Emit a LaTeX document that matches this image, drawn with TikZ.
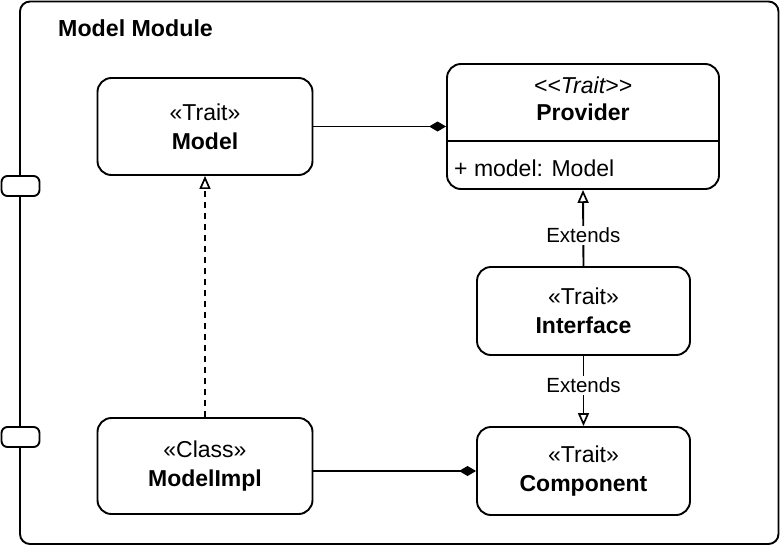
\documentclass[tikz,border=0pt]{standalone}
\usepackage{fontspec}
\setmainfont{Liberation Sans}
\usetikzlibrary{arrows.meta}
\tikzset{
  umlbox/.style={draw, line width=1.9pt, rounded corners=14pt, inner sep=0pt, align=center,
    font=\fontsize{23}{29}\selectfont, fill=white},
  conn/.style={line width=1.9pt},
  realize/.style={conn, dashed, dash pattern=on 6pt off 5pt, -{Triangle[open, length=13pt, width=11pt, line width=1.7pt]}},
  extend/.style={conn, -{Triangle[open, length=13pt, width=11pt, line width=1.7pt]}},
  compose/.style={conn, -{Diamond[length=17pt, width=10pt]}},
  lbl/.style={fill=white, inner sep=2pt, font=\fontsize{20.5}{23}\selectfont},
  tab/.style={draw, line width=1.9pt, rounded corners=6pt, fill=white, minimum width=38pt, minimum height=20pt, inner sep=0pt},
}
\begin{document}
\begin{tikzpicture}[x=1pt,y=-1pt]
\useasboundingbox (0,0) rectangle (781,546);
% module frame
\draw[line width=1.9pt, rounded corners=10pt] (20,1.5) rectangle (778.5,544);
\node[anchor=west, inner sep=0pt, font=\fontsize{23.2}{26}\selectfont\bfseries] (title) at (58,28) {Model Module};
\node[tab] (tab1) at (20.5,186) {};
\node[tab] (tab2) at (20.5,437) {};
% classes
\node[umlbox, minimum width=215pt, minimum height=97pt] (model) at (205,126.5) {«Trait»\\\textbf{Model}};
\node[umlbox, minimum width=215pt, minimum height=96pt] (mi) at (205,466) {«Class»\\\textbf{ModelImpl}};
\node[umlbox, minimum width=213pt, minimum height=88pt] (iface) at (583.5,311) {«Trait»\\\textbf{Interface}};
\node[umlbox, minimum width=213pt, minimum height=88pt] (comp) at (583.5,471) {«Trait»\\\textbf{Component}};
\node[umlbox, minimum width=272pt, minimum height=125pt] (prov) at (583,126.5) {};
\draw[line width=1.9pt] (447,141) -- (719,141);
\node[font=\fontsize{23}{26}\selectfont\itshape] (provst) at (583,85) {<{}<Trait>{}>};
\node[font=\fontsize{23}{26}\selectfont\bfseries] (provname) at (583,112) {Provider};
\node[anchor=west, font=\fontsize{23}{26}\selectfont, inner sep=0pt] (provattr) at (454,168) {+ model: Model};
% connectors
\draw[compose] (model.east) -- (prov.west);
\draw[compose] ([yshift=-5pt]mi.east) -- (comp.west);
\draw[realize] (mi.north) -- (model.south);
\draw[extend] (iface.north) -- node[lbl, pos=0.4] {Extends} (prov.south);
\draw[extend] (iface.south) -- node[lbl, pos=0.42] {Extends} (comp.north);
\end{tikzpicture}
\end{document}
